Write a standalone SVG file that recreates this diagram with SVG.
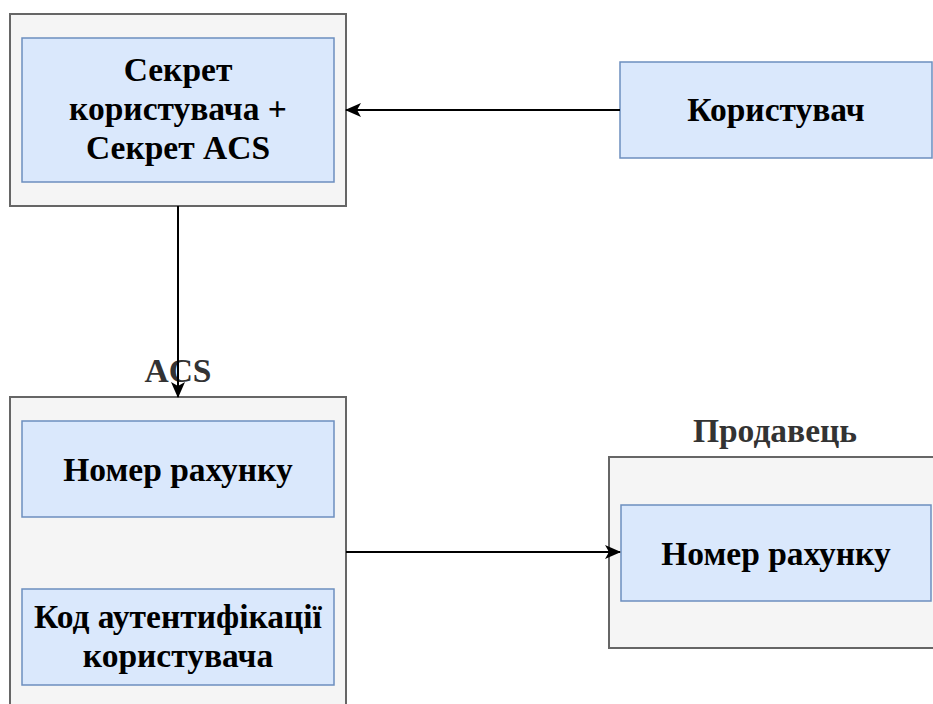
<svg xmlns="http://www.w3.org/2000/svg" width="933" height="704" viewBox="0 0 933 704">
<style>
.cont{fill:#f5f5f5;stroke:#666666;stroke-width:2}
.inner{fill:#dae8fc;stroke:#6c8ebf;stroke-width:1.5}
.t{font-family:"Liberation Serif","DejaVu Serif",serif;font-weight:bold;font-size:33.5px;fill:#000000;text-anchor:middle}
.lbl{font-family:"Liberation Serif","DejaVu Serif",serif;font-weight:bold;font-size:33.5px;fill:#333333;text-anchor:middle}
.edge{fill:none;stroke:#000000;stroke-width:2}
</style>
<defs>
<marker id="arr" viewBox="0 0 16 14" refX="15" refY="7" markerWidth="16" markerHeight="14" markerUnits="userSpaceOnUse" orient="auto">
<path d="M0,0 L16,7 L0,14 L4,7 Z" fill="#000000"/>
</marker>
</defs>
<rect width="933" height="704" fill="#ffffff"/>
<g id="secret-container">
<rect class="cont" x="10" y="14" width="336" height="192"/>
</g>
<g id="secret">
<rect class="inner" x="22" y="38" width="312" height="144"/>
<text class="t" x="178" y="81">Секрет</text>
<text class="t" x="178" y="120">користувача +</text>
<text class="t" x="178" y="159">Секрет ACS</text>
</g>
<g id="user">
<rect class="inner" x="620" y="62" width="312" height="96"/>
<text class="t" x="776" y="121">Користувач</text>
</g>
<g id="acs">
<rect class="cont" x="10" y="397" width="336" height="330"/>
<text class="lbl" x="178" y="382">ACS</text>
</g>
<g id="acs-account">
<rect class="inner" x="22" y="421" width="312" height="96"/>
<text class="t" x="178" y="481">Номер рахунку</text>
</g>
<g id="acs-auth">
<rect class="inner" x="22" y="589" width="312" height="96"/>
<text class="t" x="178" y="628">Код аутентифікації</text>
<text class="t" x="178" y="667">користувача</text>
</g>
<g id="seller">
<rect class="cont" x="609" y="457" width="326" height="191"/>
<text class="lbl" x="775" y="442">Продавець</text>
</g>
<g id="seller-account">
<rect class="inner" x="621" y="505" width="310" height="96"/>
<text class="t" x="776" y="565">Номер рахунку</text>
</g>
<g id="connectors">
<path class="edge" d="M620,110 L346,110" marker-end="url(#arr)"/>
<path class="edge" d="M178,206 L178,397" marker-end="url(#arr)"/>
<path class="edge" d="M346,552 L620,552" marker-end="url(#arr)"/>
</g>
</svg>
